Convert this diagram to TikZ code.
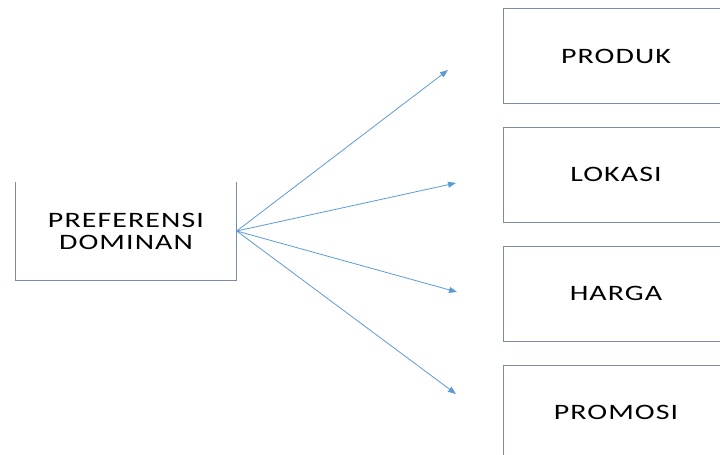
\documentclass[tikz,border=0pt]{standalone}
\usepackage{fontspec}
\usepackage{xcolor}
\usepackage{tikz}
\usetikzlibrary{positioning, arrows.meta}

\newfontfamily\boxfont[FakeStretch=1.36,LetterSpace=5]{Carlito}
\definecolor{edgegray}{RGB}{125,140,158}
\definecolor{arrowblue}{RGB}{91,155,213}

\begin{document}
\begin{tikzpicture}[
      x=1pt, y=-1pt,
      node distance=23pt,
      box/.style={
        draw=edgegray,
        line width=0.9pt,
        minimum width=226pt,
        minimum height=95pt,
        inner sep=0pt,
        font=\boxfont\fontsize{22}{22}\selectfont,
        align=center
      },
      openbox/.style={
        minimum width=221pt,
        minimum height=98pt,
        inner sep=0pt,
        font=\boxfont\fontsize{22}{22}\selectfont,
        align=center
      },
      arrow/.style={
        -{Triangle[length=8pt,width=6pt]},
        draw=arrowblue,
        line width=0.8pt
      }
    ]

    \clip (0,0) rectangle (720,455);

    % left box, open on top
    \node[openbox] (pref) at (126,231) {PREFERENSI\\DOMINAN};
    \draw[edgegray, line width=0.9pt] (pref.north west) -- (pref.south west)
      -- (pref.south east) -- (pref.north east);

    % right column
    \node[box] (produk) at (616,56) {PRODUK};
    \node[box, below=of produk] (lokasi) {LOKASI};
    \node[box, below=of lokasi] (harga) {HARGA};
    \node[box, below=of harga] (promosi) {PROMOSI};

    % arrow ends
    \coordinate (toprod) at (448,70);
    \coordinate (tolok) at (456,183);
    \coordinate (tohar) at (457,292);
    \coordinate (topro) at (456,394);

    \draw[arrow] (pref.east) -- (toprod);
    \draw[arrow] (pref.east) -- (tolok);
    \draw[arrow] (pref.east) -- (tohar);
    \draw[arrow] (pref.east) -- (topro);

    \end{tikzpicture}
\end{document}
